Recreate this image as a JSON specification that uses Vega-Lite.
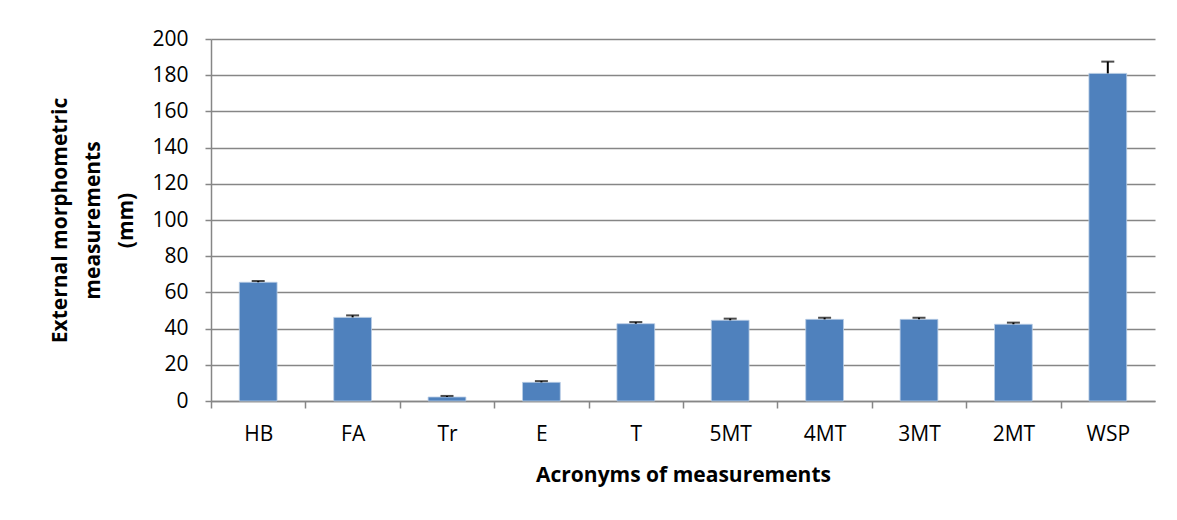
{
  "$schema": "https://vega.github.io/schema/vega-lite/v6.json",
  "width": 944,
  "height": 362,
  "autosize": {"type": "none"},
  "padding": {"left": 211, "top": 39, "right": 22, "bottom": 119},
  "background": "white",
  "config": {
    "view": {"stroke": null},
    "font": "Open Sans",
    "axis": {"labelFont": "Open Sans", "titleFont": "Open Sans"},
    "axisY": {
      "titleFontSize": 21,
      "titleFontWeight": "bold",
      "titleColor": "#000000",
      "titleLineHeight": 33,
      "titlePadding": 15,
      "labelOverlap": false,
      "labelFontSize": 21,
      "labelColor": "#000000",
      "labelPadding": 17,
      "tickSize": 6,
      "tickColor": "#868686",
      "tickWidth": 1.5,
      "domainColor": "#868686",
      "domainWidth": 1.5,
      "grid": true,
      "gridColor": "#868686",
      "gridWidth": 1.5
    }
  },
  "data": {
    "values": [
      {"m": "HB", "value": 65.6, "upper": 66.3},
      {"m": "FA", "value": 46.2, "upper": 47.3},
      {"m": "Tr", "value": 2.2, "upper": 2.8},
      {"m": "E", "value": 10.3, "upper": 11.0},
      {"m": "T", "value": 42.7, "upper": 43.6},
      {"m": "5MT", "value": 44.6, "upper": 45.5},
      {"m": "4MT", "value": 45.1, "upper": 46.0},
      {"m": "3MT", "value": 45.1, "upper": 46.0},
      {"m": "2MT", "value": 42.4, "upper": 43.3},
      {"m": "WSP", "value": 181.0, "upper": 187.5}
    ]
  },
  "encoding": {
    "x": {
      "field": "m",
      "type": "nominal",
      "sort": null,
      "scale": {"paddingInner": 0.6, "paddingOuter": 0.3},
      "axis": {
        "title": "Acronyms of measurements",
        "titleFontSize": 21,
        "titleFontWeight": "bold",
        "titleColor": "#000000",
        "titlePadding": 20,
        "labelAngle": 0,
        "labelFontSize": 21,
        "labelColor": "#000000",
        "labelPadding": 15,
        "labelOverlap": false,
        "ticks": true,
        "tickOffset": -47.2,
        "labelOffset": 47.2,
        "tickSize": 7,
        "tickColor": "#868686",
        "tickWidth": 1.5,
        "domainColor": "#868686",
        "domainWidth": 1.5
      }
    }
  },
  "layer": [
    {
      "mark": {"type": "bar", "color": "#4F81BD", "stroke": "#B9CDE5", "strokeWidth": 0.8},
      "encoding": {
        "y": {
          "field": "value",
          "type": "quantitative",
          "scale": {"domain": [0, 200], "nice": false},
          "axis": {"values": [0, 20, 40, 60, 80, 100, 120, 140, 160, 180, 200], "title": ["External morphometric", "measurements", "(mm)"]}
        }
      }
    },
    {
      "mark": {"type": "rule", "color": "#000000", "strokeWidth": 2},
      "encoding": {
        "y": {"field": "value", "type": "quantitative", "axis": {"values": [0, 20, 40, 60, 80, 100, 120, 140, 160, 180, 200], "title": ["External morphometric", "measurements", "(mm)"]}},
        "y2": {"field": "upper"}
      }
    },
    {
      "mark": {"type": "tick", "color": "#000000", "size": 13, "thickness": 2},
      "encoding": {
        "y": {"field": "upper", "type": "quantitative", "axis": {"values": [0, 20, 40, 60, 80, 100, 120, 140, 160, 180, 200], "title": ["External morphometric", "measurements", "(mm)"]}}
      }
    }
  ]
}
